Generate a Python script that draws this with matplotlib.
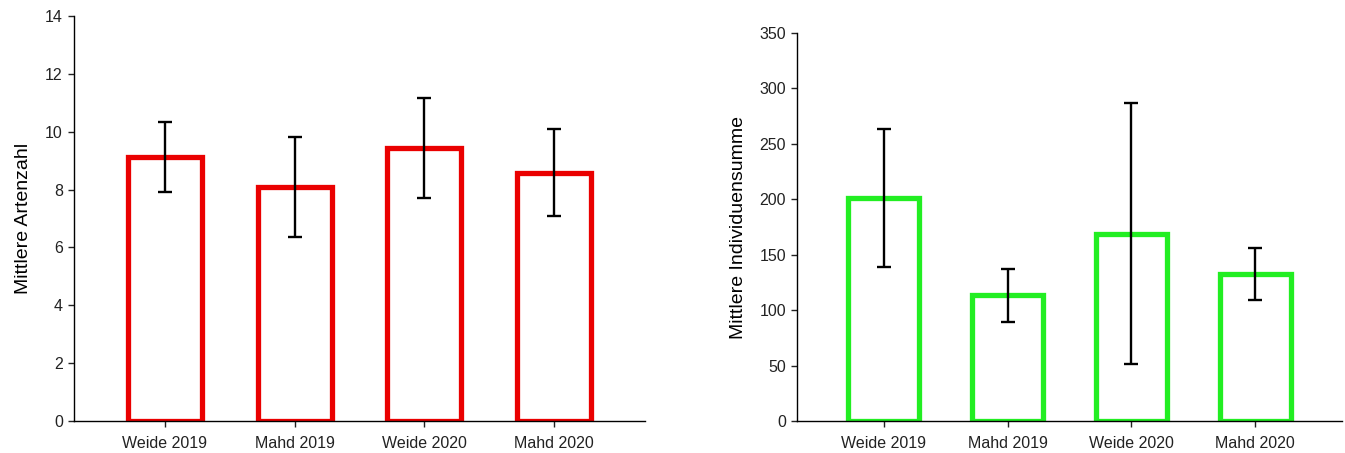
import numpy as np
import matplotlib
matplotlib.use("Agg")
import matplotlib.pyplot as plt

plt.rcParams['font.family'] = ['Liberation Sans', 'DejaVu Sans']

# data
categories = ["Weide 2019", "Mahd 2019", "Weide 2020", "Mahd 2020"]
artenzahl = [9.12, 8.09, 9.44, 8.59]
artenzahl_err = [1.22, 1.74, 1.73, 1.50]
individuen = [201, 113.5, 169, 132.6]
individuen_err = [62, 24, 118, 23.6]

red = "#ea0000"
green = "#22ee22"

fig = plt.figure(figsize=(13.45, 4.53), dpi=100)
ax1 = fig.add_axes([0.055, 0.0706, 0.4245, 0.894])
ax2 = fig.add_axes([0.5926, 0.0706, 0.4052, 0.8565])


def bar_panel(ax, vals, errs, color, ylim, yticks, ylabel):
    x = np.arange(len(categories))
    ax.bar(x, vals, width=0.57, color="white", edgecolor=color,
           linewidth=3.8, zorder=2)
    ax.errorbar(x, vals, yerr=errs, fmt="none", ecolor="black",
                elinewidth=1.7, capsize=5, capthick=1.7, zorder=3)
    ax.set_xlim(-0.7, 3.7)
    ax.set_ylim(*ylim)
    ax.set_yticks(yticks)
    ax.set_xticks(x)
    ax.set_xticklabels(categories)
    ax.set_ylabel(ylabel, fontsize=14, labelpad=9)
    for s in ["top", "right"]:
        ax.spines[s].set_visible(False)
    for s in ["left", "bottom"]:
        ax.spines[s].set_linewidth(1.0)
    ax.tick_params(axis="both", direction="out", length=4.5, width=1,
                   labelsize=11.5, colors="#222222")
    ax.tick_params(axis="x", pad=6)


bar_panel(ax1, artenzahl, artenzahl_err, red, (0, 14),
          np.arange(0, 15, 2), "Mittlere Artenzahl")
bar_panel(ax2, individuen, individuen_err, green, (0, 350),
          np.arange(0, 351, 50), "Mittlere Individuensumme")

fig.savefig("out.png", dpi=100)
